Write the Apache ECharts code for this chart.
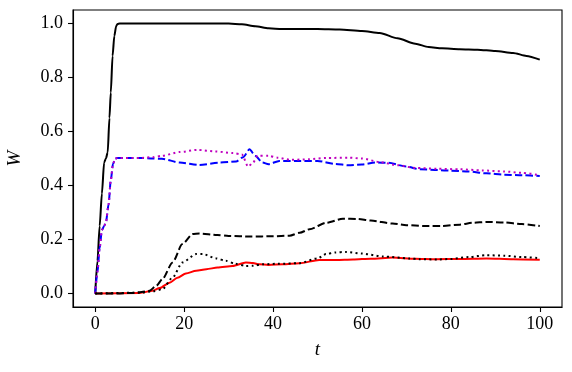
<!DOCTYPE html>
<html>
<head>
<meta charset="utf-8">
<script src="https://cdn.jsdelivr.net/npm/echarts@6/dist/echarts.min.js"></script>
<style>html,body{margin:0;padding:0;background:#fff}#c{width:572px;height:372px}</style>
</head>
<body>
<div id="c"></div>
<script>
const xTicks = [0, 20, 40, 60, 80, 100];
const yTicks = [0, 0.2, 0.4, 0.6, 0.8, 1.0];

const blackSolid = [[0,0],[0.5,0.12],[1,0.25],[1.5,0.37],[2,0.485],[2.4,0.5],[2.8,0.522],[3.2,0.65],[3.5,0.744],[3.9,0.88],[4.3,0.954],[4.7,0.99],[5,0.998],[5.5,1.0],[10,1.0],[20,1.0],[30,1.0],[33,0.997],[36,0.99],[39,0.982],[42,0.98],[50,0.98],[55,0.978],[60,0.972],[64,0.965],[68,0.945],[72,0.925],[75,0.913],[78,0.908],[82,0.905],[86,0.903],[90,0.898],[94,0.891],[97,0.88],[100,0.866]];

const blueDashed = [[0,0],[0.5,0.08],[1,0.17],[1.5,0.235],[2,0.25],[2.4,0.263],[3,0.33],[3.5,0.42],[4,0.48],[4.5,0.5],[5,0.502],[10,0.502],[13,0.5],[15,0.499],[19,0.485],[23.4,0.476],[28,0.485],[31.7,0.489],[33.3,0.505],[34.7,0.534],[36,0.51],[37.6,0.485],[39,0.479],[41.4,0.491],[45,0.491],[50,0.491],[54,0.48],[57,0.475],[60,0.478],[63,0.485],[66,0.484],[70,0.47],[73,0.46],[77,0.457],[80,0.455],[84,0.452],[88,0.445],[92,0.44],[96,0.438],[100,0.435]];

const magentaDotted = [[0,0],[0.5,0.08],[1,0.17],[1.5,0.235],[2,0.25],[2.4,0.263],[3,0.33],[3.5,0.42],[4,0.48],[4.5,0.5],[5,0.502],[10,0.502],[13,0.505],[15,0.51],[19,0.524],[23,0.532],[27,0.526],[31,0.52],[33,0.515],[34.4,0.47],[35.5,0.485],[36.5,0.51],[39,0.51],[41,0.503],[44,0.495],[48,0.497],[52,0.502],[57,0.503],[60,0.5],[64,0.487],[68,0.475],[72,0.465],[77,0.462],[82,0.46],[87,0.456],[92,0.452],[96,0.447],[100,0.438]];

const redSolid = [[0,0],[10,0.002],[12.9,0.01],[14.5,0.02],[16.7,0.04],[18.5,0.058],[20.4,0.074],[22.7,0.084],[25,0.09],[27.5,0.096],[30.9,0.102],[33.9,0.115],[35.5,0.113],[36.9,0.108],[39,0.106],[42.2,0.108],[45.9,0.112],[50.4,0.124],[54.2,0.124],[58,0.126],[62,0.129],[66.9,0.133],[72,0.129],[76.7,0.127],[82,0.128],[88,0.13],[94,0.127],[100,0.125]];

const blackDashed = [[0,0],[5,0],[8,0.002],[10,0.005],[12.2,0.01],[13.7,0.028],[15.1,0.053],[17.4,0.115],[19.6,0.183],[21.9,0.22],[23.4,0.222],[27.5,0.217],[30,0.213],[35,0.211],[40,0.212],[43.7,0.214],[46,0.225],[48.2,0.238],[52,0.262],[55.7,0.277],[59,0.276],[62,0.27],[66.9,0.259],[70,0.253],[74,0.25],[78,0.25],[82,0.255],[85,0.262],[88,0.265],[92,0.263],[96,0.257],[100,0.25]];

const blackDotted = [[0,0],[10,0.003],[13,0.008],[15.1,0.016],[17.4,0.059],[19.6,0.115],[22.7,0.146],[24.2,0.146],[27.2,0.13],[29.4,0.121],[31.5,0.11],[33.9,0.102],[35.5,0.103],[37.6,0.108],[41,0.11],[45.9,0.112],[50,0.13],[51.9,0.146],[54,0.152],[56.4,0.154],[60,0.148],[64.7,0.137],[70.7,0.13],[72.9,0.127],[77,0.126],[80,0.128],[84,0.135],[88,0.142],[92,0.14],[96,0.135],[100,0.131]];

const FONT = '"Liberation Serif", "Times New Roman", serif';

function mk(name, data, color, type) {
  let dash = 'solid';
  if (type === 'dashed') dash = [7.4, 3.2];
  if (type === 'dotted') dash = [2, 3.3];
  return {
    name: name, type: 'line', data: data, showSymbol: false, symbol: 'none',
    smooth: 0.25, smoothMonotone: 'x', animation: false,
    lineStyle: { color: color, width: 2, type: dash, cap: 'butt' },
    silent: true
  };
}

const chart = echarts.init(document.getElementById('c'), null, { renderer: 'canvas' });
chart.setOption({
  backgroundColor: '#fff',
  animation: false,
  grid: { left: 73, top: 10, right: 10, bottom: 65, containLabel: false, outerBoundsMode: 'none', show: true, borderColor: '#000', borderWidth: 1.1, backgroundColor: 'transparent' },
  xAxis: {
    type: 'value', min: -5, max: 105,
    name: 't', nameLocation: 'middle', nameGap: 33,
    nameTextStyle: { fontFamily: FONT, fontSize: 19, fontStyle: 'italic', color: '#000' },
    axisLine: { show: true, onZero: false, lineStyle: { color: '#000', width: 1.1 } },
    axisTick: { show: true, length: 5, lineStyle: { color: '#000', width: 1.1 }, customValues: xTicks },
    axisLabel: { color: '#000', fontFamily: FONT, fontSize: 18, margin: 8, customValues: xTicks, formatter: v => String(v) },
    splitLine: { show: false }
  },
  yAxis: {
    type: 'value', min: -0.05, max: 1.05,
    name: 'W', nameLocation: 'middle', nameGap: 49,
    nameTextStyle: { fontFamily: FONT, fontSize: 19, fontStyle: 'italic', color: '#000' },
    axisLine: { show: true, onZero: false, lineStyle: { color: '#000', width: 1.1 } },
    axisTick: { show: true, length: 5, lineStyle: { color: '#000', width: 1.1 }, customValues: yTicks },
    axisLabel: { color: '#000', fontFamily: FONT, fontSize: 18, margin: 10, customValues: yTicks, formatter: v => v.toFixed(1) },
    splitLine: { show: false }
  },
  series: [
    mk('W_total', blackSolid, '#000000', 'solid'),
    mk('W_blue', blueDashed, '#0000ff', 'dashed'),
    mk('W_magenta', magentaDotted, '#bf00bf', 'dotted'),
    mk('W_red', redSolid, '#ff0000', 'solid'),
    mk('W_dashed', blackDashed, '#000000', 'dashed'),
    mk('W_dotted', blackDotted, '#000000', 'dotted')
  ]
});
</script>
</body>
</html>
